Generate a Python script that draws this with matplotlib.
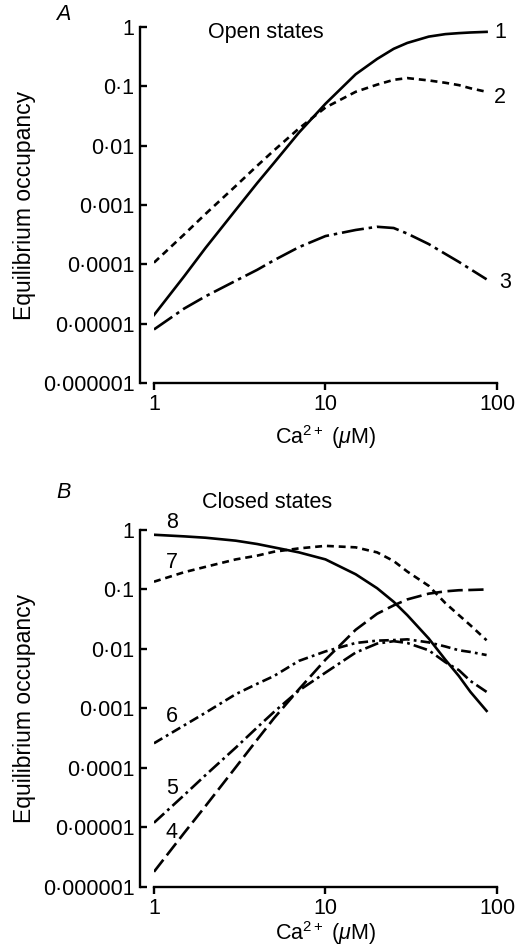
import matplotlib
matplotlib.use("Agg")
import matplotlib.pyplot as plt

plt.rcParams['font.family'] = ['Liberation Sans', 'DejaVu Sans']
plt.rcParams['mathtext.fontset'] = 'custom'
plt.rcParams['mathtext.rm'] = 'Liberation Sans'
plt.rcParams['mathtext.it'] = 'Liberation Sans:italic'
plt.rcParams['lines.scale_dashes'] = False

# Ca2+ concentrations (uM) at which occupancies were read
conc = [1, 1.5, 2, 3, 4, 5, 7, 10, 15, 20, 25, 30, 40, 50, 60, 70, 87]

# Open states (panel A)
open1 = [1.4e-5, 6.3e-5, 1.9e-4, 8.3e-4, 2.35e-3, 5.1e-3, 0.0166, 0.051, 0.16, 0.29, 0.43,
         0.54, 0.69, 0.76, 0.79, 0.81, 0.83]
open2 = [1.07e-4, 3.2e-4, 7.1e-4, 2.1e-3, 4.6e-3, 8.3e-3, 0.0195, 0.044, 0.081, 0.107, 0.129,
         0.138, 0.126, 0.115, 0.105, 0.093, 0.081]
open3 = [8e-6, 1.8e-5, 2.9e-5, 5.3e-5, 8.1e-5, 1.17e-4, 1.95e-4, 3.0e-4, 3.8e-4, 4.3e-4, 4.1e-4,
         3.3e-4, 2.2e-4, 1.5e-4, 1.1e-4, 8.3e-5, 5.6e-5]

# Closed states (panel B)
closed4 = [1.8e-6, 8.1e-6, 2.3e-5, 1.03e-4, 3.0e-4, 6.8e-4, 2.1e-3, 6.6e-3, 0.021, 0.039, 0.054,
           0.068, 0.085, 0.093, 0.097, 0.098, 0.10]
closed5 = [1.2e-5, 3.5e-5, 7.6e-5, 2.2e-4, 4.8e-4, 8.7e-4, 2.0e-3, 4.0e-3, 8.7e-3, 0.0123, 0.0135,
           0.0126, 0.0095, 6.0e-3, 4.4e-3, 2.9e-3, 1.9e-3]
closed6 = [2.6e-4, 5.2e-4, 8.5e-4, 1.74e-3, 2.6e-3, 3.5e-3, 6.3e-3, 9.1e-3, 0.0126, 0.0138, 0.0141,
           0.0145, 0.0129, 0.011, 9.5e-3, 8.9e-3, 7.9e-3]
closed7 = [0.135, 0.195, 0.24, 0.32, 0.37, 0.43, 0.49, 0.54, 0.51, 0.42, 0.30,
           0.20, 0.115, 0.059, 0.037, 0.025, 0.014]
closed8 = [0.83, 0.78, 0.74, 0.66, 0.58, 0.51, 0.42, 0.32, 0.18, 0.105, 0.062,
           0.037, 0.015, 0.0066, 0.0035, 0.0019, 9.1e-4]

yticks = [1e-6, 1e-5, 1e-4, 1e-3, 1e-2, 1e-1, 1]
ytick_labels = ['0\u00b7000001', '0\u00b700001', '0\u00b70001', '0\u00b7001', '0\u00b701', '0\u00b71', '1']
xticks = [1, 10, 100]
xtick_labels = ['1', '10', '100']

solid = '-'
short_dash = (0, (5, 3.5))
long_dash = (0, (11, 4))
dash_dot_long = (0, (16, 3.5, 2.5, 3.5))
dash_dot_mid = (0, (10, 3, 2, 3))
dash_dot_short = (0, (7, 3, 2, 3))

FS = 15.5
LW = 1.9

fig = plt.figure(figsize=(5.16, 9.46), dpi=100)
axA = fig.add_axes([0.2984, 0.5951, 0.6647, 0.3763])
axB = fig.add_axes([0.2984, 0.0624, 0.6647, 0.3774])


def style_axes(ax, xpad):
    ax.set_xscale('log')
    ax.set_yscale('log')
    ax.set_xlim(1, 100)
    ax.set_ylim(1e-6, 1)
    ax.spines['top'].set_visible(False)
    ax.spines['right'].set_visible(False)
    ax.spines['left'].set_position(('outward', 10))
    for s in ('left', 'bottom'):
        ax.spines[s].set_linewidth(1.7)
    ax.set_yticks(yticks)
    ax.set_yticklabels(ytick_labels)
    ax.set_xticks(xticks)
    ax.set_xticklabels(xtick_labels)
    ax.minorticks_off()
    ax.tick_params(axis='y', direction='in', length=5, width=1.7, pad=4, labelsize=FS)
    ax.tick_params(axis='x', direction='out', length=5, width=1.7, pad=3, labelsize=FS)
    ax.set_xlabel('Ca$^{2+}$ ($\\mu$M)', fontsize=FS, labelpad=xpad)
    ax.set_ylabel('Equilibrium occupancy', fontsize=FS + 1)
    ax.yaxis.set_label_coords(-0.345, 0.5)


style_axes(axA, 6)
style_axes(axB, 0)

# Panel A: open states
axA.plot(conc, open1, color='black', lw=LW, linestyle=solid)
axA.plot(conc, open2, color='black', lw=LW, linestyle=short_dash)
axA.plot(conc, open3, color='black', lw=LW, linestyle=dash_dot_long)
axA.text(104, 0.8, '1', fontsize=FS, ha='center', va='center')
axA.text(104, 0.066, '2', fontsize=FS, ha='center', va='center')
axA.text(111, 4.9e-5, '3', fontsize=FS, ha='center', va='center')
axA.text(0.327, 0.986, 'Open states', transform=axA.transAxes, fontsize=FS, ha='center', va='center')
axA.text(-0.265, 1.034, 'A', transform=axA.transAxes, fontsize=FS, style='italic', ha='center', va='center')

# Panel B: closed states
axB.plot(conc, closed8, color='black', lw=LW, linestyle=solid)
axB.plot(conc, closed7, color='black', lw=LW, linestyle=short_dash)
axB.plot(conc, closed6, color='black', lw=LW, linestyle=dash_dot_short)
axB.plot(conc, closed5, color='black', lw=LW, linestyle=dash_dot_mid)
axB.plot(conc, closed4, color='black', lw=LW, linestyle=long_dash)
axB.text(1.27, 1.36, '8', fontsize=FS, ha='center', va='center')
axB.text(1.27, 0.28, '7', fontsize=FS, ha='center', va='center')
axB.text(1.27, 7.2e-4, '6', fontsize=FS, ha='center', va='center')
axB.text(1.27, 4.6e-5, '5', fontsize=FS, ha='center', va='center')
axB.text(1.27, 8.1e-6, '4', fontsize=FS, ha='center', va='center')
axB.text(0.329, 1.076, 'Closed states', transform=axB.transAxes, fontsize=FS, ha='center', va='center')
axB.text(-0.265, 1.104, 'B', transform=axB.transAxes, fontsize=FS, style='italic', ha='center', va='center')

fig.savefig('out.png', dpi=100)
